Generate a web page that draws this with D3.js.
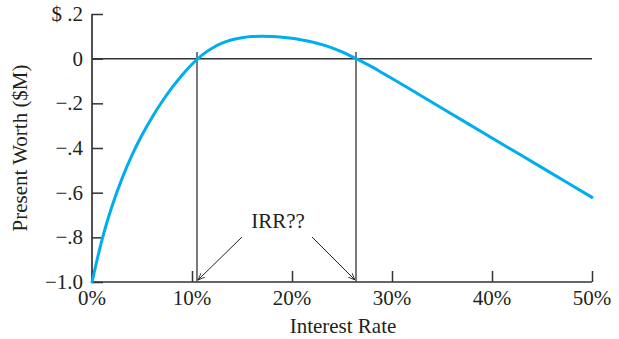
<!DOCTYPE html>
<html>
<head>
<meta charset="utf-8">
<script src="https://cdn.jsdelivr.net/npm/d3@7"></script>
<style>
  html, body { margin: 0; padding: 0; background: #fff; }
  svg { display: block; }
  text { font-family: "Liberation Serif", "Times New Roman", serif; fill: #231f20; }
</style>
</head>
<body>
<svg id="chart" width="619" height="339"></svg>
<script>
// Data (interest rate in %, present worth in $M)
const rates = [0, 1, 2, 3, 4, 5, 6, 7, 8, 9, 10, 11, 12, 13, 14, 15, 16, 17, 18, 19, 20, 21, 22, 23, 24, 25, 26, 27, 28, 29, 30, 35, 40, 45, 50];
const presentWorth = [-1.0, -0.811, -0.661, -0.537, -0.432, -0.342, -0.263, -0.193, -0.130, -0.074, -0.025, 0.016, 0.047, 0.070, 0.085, 0.094, 0.099, 0.100, 0.099, 0.096, 0.091, 0.084, 0.075, 0.063, 0.048, 0.030, 0.009, -0.013, -0.037, -0.063, -0.089, -0.222, -0.355, -0.488, -0.621];
const xTicks = [0, 10, 20, 30, 40, 50];
const xTickLabels = ["0%", "10%", "20%", "30%", "40%", "50%"];
const yTicks = [0.2, 0, -0.2, -0.4, -0.6, -0.8, -1.0];
const yTickLabels = ["$ .2", "0", "\u2212.2", "\u2212.4", "\u2212.6", "\u2212.8", "\u22121.0"];
const irrRates = [10.5, 26.4];
const irrLabel = "IRR??";

const svg = d3.select("#chart");
const x = d3.scaleLinear().domain([0, 50]).range([92, 592]);
const y = d3.scaleLinear().domain([-1.0, 0.2]).range([282, 14]);
const axisColor = "#333333";
const ink = "#231f20";
const fs = 21;

// Arrow marker
svg.append("defs").append("marker")
  .attr("id", "arrow").attr("viewBox", "0 0 10 10")
  .attr("refX", 10).attr("refY", 5)
  .attr("markerWidth", 7).attr("markerHeight", 7)
  .attr("markerUnits", "userSpaceOnUse")
  .attr("orient", "auto")
  .append("path").attr("d", "M0,1 L10,5 L0,9").attr("fill", "none")
  .attr("stroke", ink).attr("stroke-width", 1.2);

// Y axis (ticks inward)
const yAxis = d3.axisRight(y).tickValues(yTicks).tickSize(11).tickFormat("");
const gy = svg.append("g").attr("transform", `translate(${x(0)},0)`).call(yAxis);
gy.select(".domain").remove();
gy.selectAll(".tick line").attr("stroke", axisColor).attr("stroke-width", 1.5);
svg.append("line").attr("x1", x(0)).attr("x2", x(0)).attr("y1", y(0.2)).attr("y2", y(-1.0))
  .attr("stroke", axisColor).attr("stroke-width", 1.7);
svg.append("g").selectAll("text").data(yTicks).join("text")
  .attr("x", 83).attr("y", d => y(d) + 7)
  .attr("text-anchor", "end").attr("font-size", fs)
  .text((d, i) => yTickLabels[i]);

// X axis (ticks inward)
const xAxis = d3.axisTop(x).tickValues(xTicks).tickSize(11).tickFormat("");
const gx = svg.append("g").attr("transform", `translate(0,${y(-1.0)})`).call(xAxis);
gx.select(".domain").remove();
gx.selectAll(".tick line").attr("stroke", axisColor).attr("stroke-width", 1.5);
svg.append("line").attr("x1", x(0)).attr("x2", x(50)).attr("y1", y(-1.0)).attr("y2", y(-1.0))
  .attr("stroke", axisColor).attr("stroke-width", 1.7);
svg.append("g").selectAll("text").data(xTicks).join("text")
  .attr("x", d => x(d)).attr("y", 305)
  .attr("text-anchor", "middle").attr("font-size", fs)
  .text((d, i) => xTickLabels[i]);

// Zero line
svg.append("line").attr("x1", x(0)).attr("x2", x(50)).attr("y1", y(0)).attr("y2", y(0))
  .attr("stroke", axisColor).attr("stroke-width", 1.5);

// IRR vertical lines
svg.append("g").selectAll("line").data(irrRates).join("line")
  .attr("x1", d => x(d)).attr("x2", d => x(d))
  .attr("y1", y(0.03)).attr("y2", y(-1.0))
  .attr("stroke", axisColor).attr("stroke-width", 1.3);

// Curve
const line = d3.line().x((d, i) => x(rates[i])).y(d => y(d)).curve(d3.curveMonotoneX);
svg.append("path").datum(presentWorth).attr("d", line)
  .attr("fill", "none").attr("stroke", "#00aeef").attr("stroke-width", 3)
  .attr("stroke-linecap", "round");

// IRR annotation
svg.append("text").attr("x", 278).attr("y", 228).attr("text-anchor", "middle")
  .attr("font-size", fs).text(irrLabel);
svg.append("line").attr("x1", 242).attr("y1", 237).attr("x2", x(irrRates[0]) + 1).attr("y2", 280)
  .attr("stroke", ink).attr("stroke-width", 1).attr("marker-end", "url(#arrow)");
svg.append("line").attr("x1", 312).attr("y1", 237).attr("x2", x(irrRates[1]) - 1).attr("y2", 280)
  .attr("stroke", ink).attr("stroke-width", 1).attr("marker-end", "url(#arrow)");

// Axis titles
svg.append("text").attr("x", (x(0) + x(50)) / 2 + 1).attr("y", 333)
  .attr("text-anchor", "middle").attr("font-size", fs).text("Interest Rate");
svg.append("text").attr("transform", "translate(27,148) rotate(-90)")
  .attr("text-anchor", "middle").attr("font-size", fs).text("Present Worth ($M)");
</script>
</body>
</html>
